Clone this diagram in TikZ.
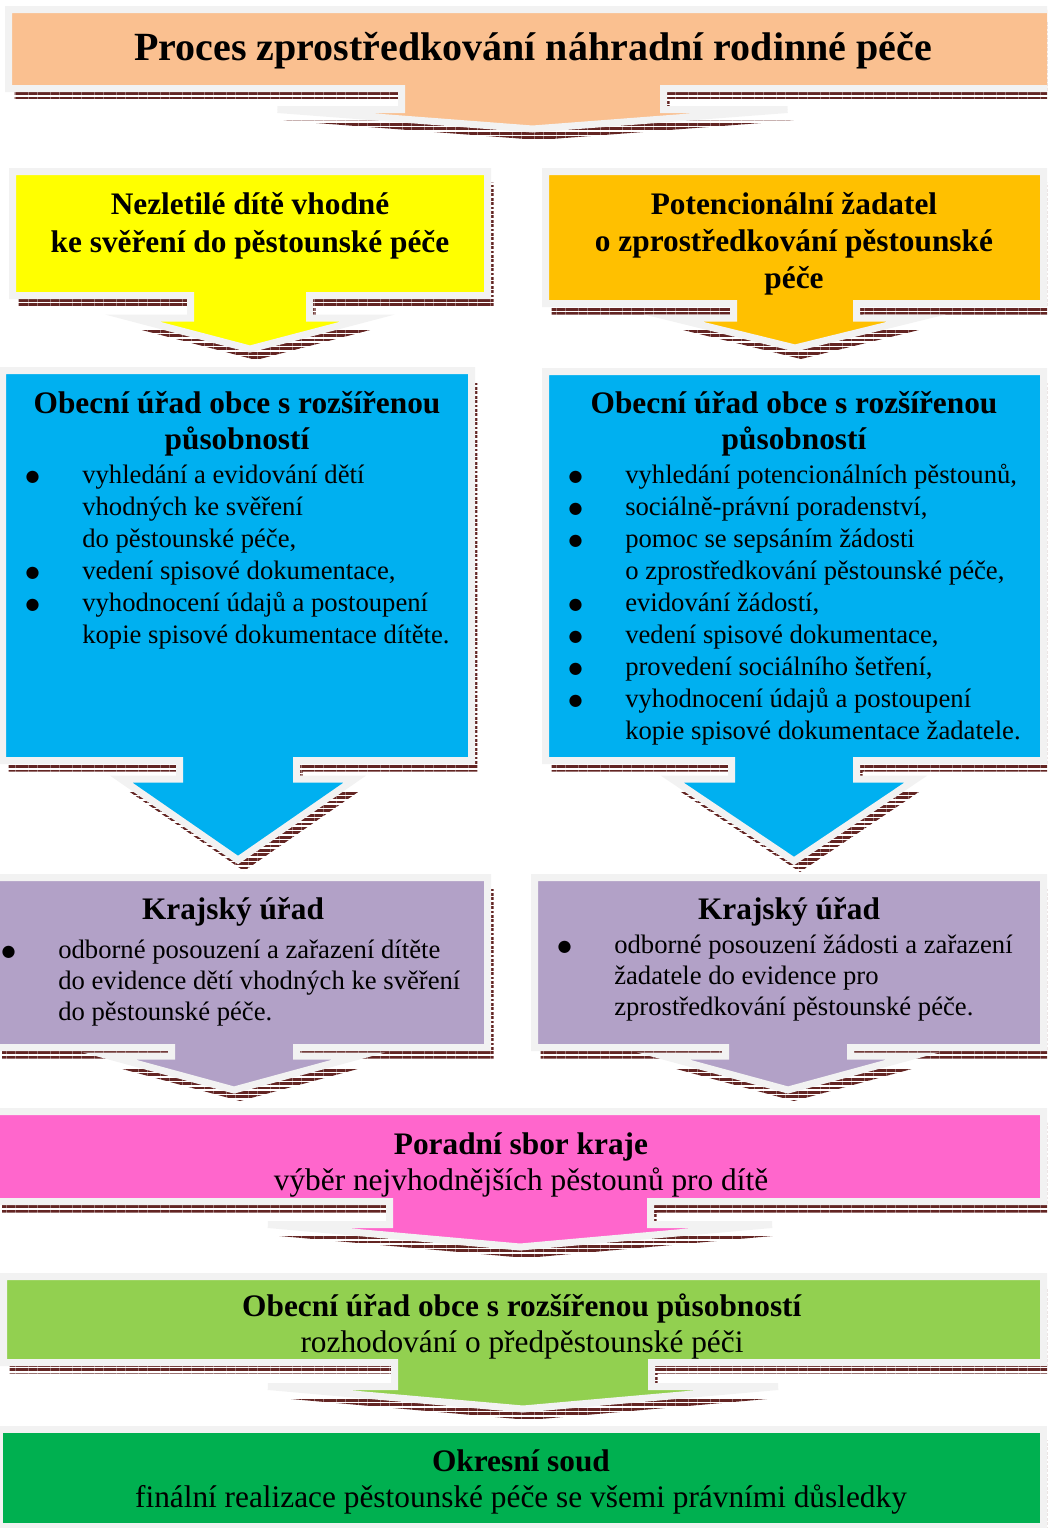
\documentclass[tikz,border=0pt]{standalone}
\usepackage{fontspec}
\setmainfont{Liberation Serif}
\newfontfamily\symfont{DejaVu Sans}
\usepackage{xcolor}
\usetikzlibrary{patterns.meta}
\definecolor{peach}{HTML}{FAC090}
\definecolor{childyellow}{HTML}{FFFF00}
\definecolor{applicant}{HTML}{FFC000}
\definecolor{officeblue}{HTML}{00B0F0}
\definecolor{regionlilac}{HTML}{B2A1C7}
\definecolor{boardpink}{HTML}{FF66CC}
\definecolor{lightgreen}{HTML}{92D050}
\definecolor{courtgreen}{HTML}{00B050}
\definecolor{bordergray}{HTML}{F2F2F2}
\definecolor{shadowbrown}{HTML}{632523}
\newcommand{\bodyfont}{\fontsize{20}{24}\selectfont}
\newcommand{\headfont}{\fontsize{23.5}{27}\selectfont\bfseries}
\newcommand{\bul}{\leavevmode\llap{\raisebox{1pt}{\symfont\fontsize{12}{14}\selectfont ●}\hspace{32pt}}}
% box with arrow below: x1, y1, x2, y2, stem left, stem right, head top, half width, tip
\newcommand{\calloutpath}[9]{(#1,#2) -- (#3,#2) -- (#3,#4) -- (#6,#4) -- (#6,#7) -- ({(#5+#6)/2+#8},#7) -- ({(#5+#6)/2},#9) -- ({(#5+#6)/2-#8},#7) -- (#5,#7) -- (#5,#4) -- (#1,#4) -- cycle}
\newcommand{\arrowbox}[2]{%
  \fill [shadowfill,shift={(6,11)}] \calloutpath#2;
  \filldraw [calloutline,fill=#1] \calloutpath#2;}
\tikzset{
  calloutline/.style={draw=bordergray,line width=5.25pt},
  shadowfill/.style={pattern={Lines[angle=0,distance=3.3pt,line width=2pt]},pattern color=shadowbrown},
  txt/.style={inner sep=0pt,anchor=base}
}

\begin{document}
\begin{tikzpicture}[x=0.75pt,y=-0.75pt]
\useasboundingbox (0,0) rectangle (1047,1528);
\clip (0,0) rectangle (1047,1528);

\arrowbox{peach}{{8.5}{9.5}{1060}{88.5}{401.5}{663.5}{109.5}{255}{129}}
\arrowbox{childyellow}{{12.5}{171.5}{487.5}{295.5}{190.5}{309.5}{318}{118}{349}}
\arrowbox{applicant}{{545.5}{171.5}{1043.5}{303.5}{733.5}{856.5}{318}{122}{348}}
\arrowbox{officeblue}{{2.5}{370.5}{471.5}{760.5}{179.5}{296.5}{779}{117}{860}}
\arrowbox{officeblue}{{545.5}{371.5}{1043.5}{760.5}{731.5}{856.5}{779}{122}{861}}
\arrowbox{regionlilac}{{-4}{877.5}{487.5}{1047.5}{171.5}{296.5}{1056}{125}{1090}}
\arrowbox{regionlilac}{{534.5}{877.5}{1043.5}{1047.5}{725.5}{850.5}{1056}{125}{1090}}
\arrowbox{boardpink}{{-4}{1111.5}{1043.5}{1201.5}{389.5}{650.5}{1224.5}{252}{1247}}
\arrowbox{lightgreen}{{3.5}{1276.5}{1043.5}{1362.5}{394.5}{651.5}{1386.5}{255}{1409}}
\fill [shadowfill,shift={(6,11)}] (-0.5,1429.5) rectangle (1043.5,1526.5);
\filldraw [calloutline,fill=courtgreen] (-0.5,1429.5) rectangle (1043.5,1526.5);

\node [txt] (title) at (533,60) {\fontsize{30}{34}\selectfont\bfseries Proces zprostředkování náhradní rodinné péče};

\node [txt] (child) at (250,214) {\parbox[t]{460pt}{\centering\fontsize{23.5}{28.5}\selectfont\bfseries Nezletilé dítě vhodné\\ ke svěření do pěstounské péče}};
\node [txt] (applicant) at (794,214) {\parbox[t]{460pt}{\centering\fontsize{23.5}{28}\selectfont\bfseries Potencionální žadatel\\ o zprostředkování pěstounské\\ péče}};

\node [txt] (office left) at (237,413) {\parbox[t]{460pt}{\centering\headfont Obecní úřad obce s rozšířenou\\ působností}};
\node [txt,anchor=base west] (office left list) at (82,483) {\parbox[t]{460pt}{\raggedright\bodyfont
\bul vyhledání a evidování dětí\\
vhodných ke svěření\\
do pěstounské péče,\\
\bul vedení spisové dokumentace,\\
\bul vyhodnocení údajů a postoupení\\
kopie spisové dokumentace dítěte.}};

\node [txt] (office right) at (794,413) {\parbox[t]{460pt}{\centering\headfont Obecní úřad obce s rozšířenou\\ působností}};
\node [txt,anchor=base west] (office right list) at (625,483) {\parbox[t]{460pt}{\raggedright\bodyfont
\bul vyhledání potencionálních pěstounů,\\
\bul sociálně-právní poradenství,\\
\bul pomoc se sepsáním žádosti\\
o zprostředkování pěstounské péče,\\
\bul evidování žádostí,\\
\bul vedení spisové dokumentace,\\
\bul provedení sociálního šetření,\\
\bul vyhodnocení údajů a postoupení\\
kopie spisové dokumentace žadatele.}};

\node [txt] (region left) at (233,919) {\headfont Krajský úřad};
\node [txt,anchor=base west] (region left list) at (58,958) {\parbox[t]{460pt}{\raggedright\fontsize{20}{23.3}\selectfont
\bul odborné posouzení a zařazení dítěte\\
do evidence dětí vhodných ke svěření\\
do pěstounské péče.}};

\node [txt] (region right) at (789,919) {\headfont Krajský úřad};
\node [txt,anchor=base west] (region right list) at (614,953) {\parbox[t]{460pt}{\raggedright\fontsize{20}{23.3}\selectfont
\bul odborné posouzení žádosti a zařazení\\
žadatele do evidence pro\\
zprostředkování pěstounské péče.}};

\node [txt] (board) at (521,1154) {\parbox[t]{760pt}{\centering\fontsize{23.5}{27}\selectfont\textbf{Poradní sbor kraje}\\ výběr nejvhodnějších pěstounů pro dítě}};
\node [txt] (decision) at (522,1316) {\parbox[t]{760pt}{\centering\fontsize{23.5}{27}\selectfont\textbf{Obecní úřad obce s rozšířenou působností}\\ rozhodování o předpěstounské péči}};
\node [txt] (court) at (521,1471) {\parbox[t]{760pt}{\centering\fontsize{23.5}{27.5}\selectfont\textbf{Okresní soud}\\ finální realizace pěstounské péče se všemi právními důsledky}};
\end{tikzpicture}
\end{document}
